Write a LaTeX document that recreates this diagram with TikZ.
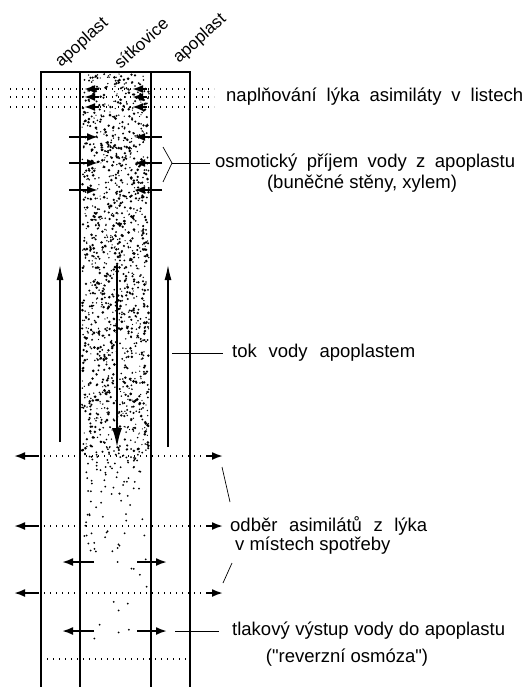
\documentclass[tikz,border=0pt]{standalone}
\usepackage{fontspec}
\setmainfont{Liberation Sans}[Ligatures=TeXOff]
\usetikzlibrary{arrows.meta,positioning,calc}

% a line of text spread to a given width
\newcommand{\spread}[2]{\makebox[#1][s]{#2}}

\begin{document}
\begin{tikzpicture}[x=1pt,y=-1pt,font=\fontsize{18.5}{20}\selectfont,
  wall/.style={line width=1.7pt},
  dots/.style={line width=1.4pt,dash pattern=on 1.4pt off 4.6pt},
  flow/.style={line width=1.3pt,-{Latex[length=15pt,width=7pt]}},
  tiny/.style={line width=1.9pt,-{Latex[length=11pt,width=8pt]}},
  lbl/.style={anchor=west,inner sep=0pt},
  lead/.style={line width=0.7pt},
  col/.style={rotate=42,inner sep=0pt,font=\fontsize{17}{19}\selectfont}]
  \useasboundingbox (0,0) rectangle (529,687);

  % stipple of the sieve tube, dense above and thin below
  \pgfmathsetseed{11}
  \foreach \i in {1,...,1400}{
    \pgfmathsetmacro{\px}{82+67*rnd}
    \pgfmathsetmacro{\py}{74+378*rnd}
    \pgfmathsetmacro{\pr}{0.6+0.9*rnd}
    \fill (\px,\py) circle (\pr);
  }
  \foreach \i in {1,...,110}{
    \pgfmathsetmacro{\px}{84+63*rnd}
    \pgfmathsetmacro{\py}{452+220*rnd*rnd}
    \fill (\px,\py) circle (1);
  }

  % walls
  \draw[wall] (41,687) -- (41,72) -- (190,72) -- (190,687);
  \draw[wall] (80,72) -- (80,687);
  \draw[wall] (151,72) -- (151,687);

  % column names
  \node[col] (apoL) at (82,43) {apoplast};
  \node[col] (sitko) at (141,43) {sítkovice};
  \node[col] (apoR) at (200,39) {apoplast};

  % loading in leaves
  \foreach \y in {89,97,107}{
    \draw[dots] (10,\y) -- (214,\y);
    \draw[tiny] (99,\y) -- (84,\y);
    \draw[tiny] (147,\y) -- (132,\y);
  }
  \foreach \y in {137,163,190}{
    \draw[tiny] (69,\y) -- (98,\y);
    \draw[tiny] (162,\y) -- (134,\y);
  }

  % flow
  \draw[flow] (60,442) -- (60,265);
  \draw[flow] (168,447) -- (168,265);
  \draw[line width=2.8pt,-{Latex[length=20pt,width=10pt]}] (117,265) -- (117,448);

  % unloading
  \foreach \y in {456,526,593}{
    \draw[dots] (38,\y) -- (206,\y);
    \draw[tiny] (38,\y) -- (14,\y);
    \draw[tiny] (206,\y) -- (223,\y);
  }
  \foreach \y in {562,631}{
    \draw[tiny] (94,\y) -- (62,\y);
    \draw[tiny] (137,\y) -- (167,\y);
  }
  \draw[dots] (47,659) -- (188,659);

  % labels
  \node[lbl] (plneni) at (226,97) {\spread{297pt}{naplňování lýka asimiláty v listech}};
  \node[lbl] (prijem) at (215,163) {\spread{300pt}{osmotický příjem vody z apoplastu}};
  \node[inner sep=0pt] (steny) at (362,184) {(buněčné stěny, xylem)};
  \node[lbl] (tok) at (232,353) {\spread{183pt}{tok vody apoplastem}};
  \node[lbl] (odber) at (230,526) {\spread{197pt}{odběr asimilátů z lýka}};
  \node[lbl] (mista) at (235,546) {v místech spotřeby};
  \node[lbl] (vystup) at (232,631) {\spread{273pt}{tlakový výstup vody do apoplastu}};
  \node[inner sep=0pt] (osmoza) at (347,658) {("reverzní osmóza")};

  \draw[lead] (163,147) -- (172,163) -- (163,182);
  \draw[lead,shorten >=5pt] (172,163) -- (prijem.west);
  \draw[lead,shorten >=9pt] (172,353) -- (tok.west);
  \draw[lead] (222,467) -- (230,502);
  \draw[lead] (232,563) -- (223,583);
  \draw[lead,shorten >=13pt] (175,631) -- (vystup.west);
\end{tikzpicture}
\end{document}
